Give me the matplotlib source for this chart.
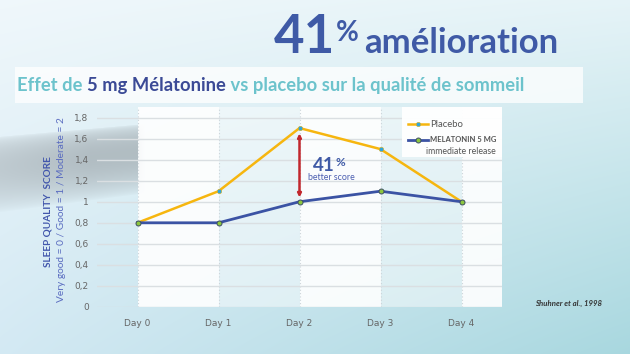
import numpy as np
import matplotlib
matplotlib.use("Agg")
import matplotlib.pyplot as plt
from matplotlib.patches import Rectangle
from matplotlib.lines import Line2D

# ---------------- data ----------------
days = ["Day 0", "Day 1", "Day 2", "Day 3", "Day 4"]
placebo = [0.8, 1.1, 1.7, 1.5, 1.0]
melatonin = [0.8, 0.8, 1.0, 1.1, 1.0]
yticks = [0, 0.2, 0.4, 0.6, 0.8, 1.0, 1.2, 1.4, 1.6, 1.8]
ytick_labels = ["0", "0,2", "0,4", "0,6", "0,8", "1", "1,2", "1,4", "1,6", "1,8"]
series_labels = ["Placebo", "MELATONIN 5 MG", "immediate release"]

W, H = 630, 354
fig = plt.figure(figsize=(6.3, 3.54), dpi=100)

def fx(px):
    return px / W

def fy(py):
    return 1 - py / H

# ---------------- background ----------------
bg = fig.add_axes([0, 0, 1, 1], zorder=-10)
yy, xx = np.mgrid[0:H, 0:W]
u = xx / (W - 1)
v = yy / (H - 1)
c00 = np.array([0.94, 0.97, 0.985])
c10 = np.array([0.90, 0.955, 0.97])
c01 = np.array([0.83, 0.915, 0.955])
c11 = np.array([0.66, 0.845, 0.875])
img = ((1 - u)[..., None] * (1 - v)[..., None] * c00 + u[..., None] * (1 - v)[..., None] * c10
       + (1 - u)[..., None] * v[..., None] * c01 + u[..., None] * v[..., None] * c11)
# grey brush stroke on the left
top = 136 - 12 * (xx / 137.0)
bot = 212 - 18 * (xx / 137.0)
t = np.clip((yy - top) / (bot - top), 0, 1)
prof = np.where((yy > top) & (yy < bot), np.sin(np.pi * t ** 0.75) ** 0.7, 0)
hfade = np.clip((145 - xx) / 8.0, 0, 1) * (0.75 + 0.25 * np.clip(xx / 90.0, 0, 1))
alpha = 0.55 * prof * hfade
grey = np.array([0.55, 0.58, 0.60])
img = img * (1 - alpha[..., None]) + grey * alpha[..., None]
bg.imshow(img, aspect="auto", extent=[0, W, H, 0], interpolation="bilinear")
bg.set_xlim(0, W)
bg.set_ylim(H, 0)
bg.axis("off")

# subtitle box
fig.patches.append(Rectangle((fx(15), fy(103)), fx(583) - fx(15), fy(67) - fy(103),
                             transform=fig.transFigure, facecolor="white", alpha=0.75,
                             edgecolor="none", zorder=-5))

# ---------------- sequential text helper ----------------
fig.canvas.draw()
renderer = fig.canvas.get_renderer()

def seq_text(x_px, y_px, parts):
    x = x_px
    out = []
    for s, kw in parts:
        dy = kw.pop("dy", 0)
        dx = kw.pop("dx", 0)
        tt = fig.text(fx(x + dx), fy(y_px - dy), s, va="baseline", ha="left", **kw)
        bb = tt.get_window_extent(renderer)
        x = x + dx + bb.width
        out.append(tt)
    return out

blue_dark = "#3f5aa6"
seq_text(274, 53, [("41", dict(fontsize=38, fontweight="bold", color=blue_dark, family="Lato")),
                   ("%", dict(fontsize=20, fontweight="bold", color=blue_dark, family="Lato", dy=12, dx=1)),
                   ("amélioration", dict(fontsize=25, fontweight="bold", color=blue_dark, family="Lato", dx=5))])

teal = "#6cc3cc"
navy = "#3b4a96"
seq_text(17, 91, [("Effet de ", dict(fontsize=13.2, fontweight="bold", color=teal, family="Lato")),
                  ("5 mg Mélatonine", dict(fontsize=13.2, fontweight="bold", color=navy, family="Lato")),
                  (" vs placebo sur la qualité de sommeil", dict(fontsize=13.2, fontweight="bold", color=teal, family="Lato"))])

# ---------------- chart ----------------
ax = fig.add_axes([fx(97), fy(307), fx(502) - fx(97), fy(107) - fy(307)])
ax.set_facecolor("none")
x = np.arange(len(days))
ax.set_xlim(-0.5, 4.5)
ax.set_ylim(0, 1.9)

for i, a in zip(range(len(days)), [0.9, 0.45, 0.9, 0.45, 0.9]):
    right = i + 1 if i + 1 < len(days) else 4.5
    ax.axvspan(i, right, color="white", alpha=a, lw=0, zorder=0)

ax.set_yticks(yticks)
ax.set_yticklabels(ytick_labels)
ax.set_xticks(x)
ax.set_xticklabels(days)
ax.yaxis.grid(True, color="#dadfe2", lw=1.0, zorder=1)
ax.xaxis.grid(True, color="#cdd5da", lw=0.8, ls=(0, (1, 2)), zorder=1)
ax.set_axisbelow(True)
ax.tick_params(axis="both", length=0, labelsize=6.5, labelcolor="#666666")
ax.tick_params(axis="y", pad=6)
ax.tick_params(axis="x", pad=9)
for sp in ax.spines.values():
    sp.set_visible(False)

yellow = "#f6b60f"
line_blue = "#3b53a4"
ax.plot(x, placebo, color=yellow, lw=1.8, marker="o", ms=3.2, mfc="#2ea6dc",
        mec="#e0b020", mew=0.4, zorder=4)
ax.plot(x, melatonin, color=line_blue, lw=2.0, marker="o", ms=3.6, mfc="#8cc63f",
        mec="#3d4f66", mew=0.7, zorder=5)

# red double arrow at Day 2
ax.annotate("", xy=(2, placebo[2] - 0.05), xytext=(2, melatonin[2] + 0.04),
            arrowprops=dict(arrowstyle="<|-|>", color="#c1272d", lw=1.8,
                            mutation_scale=5, shrinkA=0, shrinkB=0), zorder=6)

# 41% better score
seq_text(313, 171, [("41", dict(fontsize=13.5, fontweight="bold", color=blue_dark, family="Lato")),
                    ("%", dict(fontsize=8.5, fontweight="bold", color=blue_dark, family="Lato", dy=5, dx=1))])
fig.text(fx(331), fy(180), "better score", ha="center", va="baseline", fontsize=6.3,
         color="#4a5db0", family="Lato")

# y axis labels
fig.text(fx(48), fy(212), "SLEEP QUALITY  SCORE", rotation=90, ha="center", va="center",
         fontsize=7.2, fontweight="bold", color="#4257ac", family="Lato")
fig.text(fx(62), fy(210), "Very good = 0 / Good = 1 / Moderate = 2", rotation=90, ha="center",
         va="center", fontsize=7.3, color="#5a6cc0", family="Lato")

# legend (manual)
fig.patches.append(Rectangle((fx(402), fy(157)), fx(502) - fx(402), fy(107) - fy(157),
                             transform=fig.transFigure, facecolor="white", alpha=0.95,
                             edgecolor="none", zorder=8))
fig.lines.append(Line2D([fx(408), fx(428)], [fy(124.5), fy(124.5)], transform=fig.transFigure,
                        color=yellow, lw=1.8, zorder=9))
fig.lines.append(Line2D([fx(418)], [fy(124.5)], transform=fig.transFigure, marker="o", ms=3.2,
                        mfc="#2ea6dc", mec="#e0b020", mew=0.4, zorder=10))
fig.lines.append(Line2D([fx(408), fx(428)], [fy(140), fy(140)], transform=fig.transFigure,
                        color=line_blue, lw=2.0, zorder=9))
fig.lines.append(Line2D([fx(418)], [fy(140)], transform=fig.transFigure, marker="o", ms=3.6,
                        mfc="#8cc63f", mec="#3d4f66", mew=0.7, zorder=10))
fig.text(fx(430), fy(124.5), series_labels[0], va="center", ha="left", fontsize=6.8,
         color="#555555", family="Lato", zorder=11)
fig.text(fx(430), fy(140), series_labels[1], va="center", ha="left", fontsize=5.5,
         fontweight="bold", color="#555555", family="Lato", zorder=11)
fig.text(fx(426), fy(151), series_labels[2], va="center", ha="left", fontsize=6.3,
         color="#555555", family="Lato", zorder=11)

# citation
fig.text(fx(535), fy(303), "Shuhner et al., 1998", ha="left", va="center", fontsize=5.6,
         fontstyle="italic", fontweight="bold", color="#333333", family="Lato")

fig.savefig("out.png", dpi=100)
